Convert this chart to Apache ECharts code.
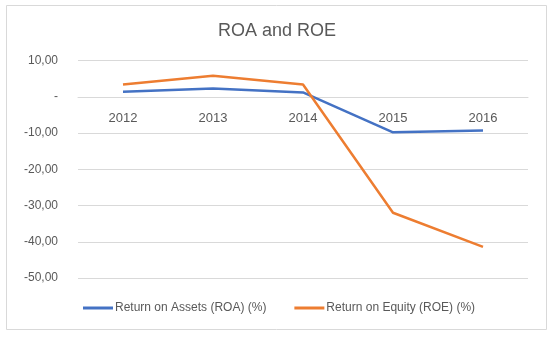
<!DOCTYPE html>
<html>
<head>
<meta charset="utf-8">
<script src="https://cdn.jsdelivr.net/npm/echarts@6/dist/echarts.min.js"></script>
<style>html,body{margin:0;padding:0;background:#fff}#c{width:554px;height:337px}</style>
</head>
<body>
<div id="c"></div>
<script>
var categories = ['2012', '2013', '2014', '2015', '2016'];
var roa = [1.4, 2.3, 1.2, -9.8, -9.3];
var roe = [3.4, 5.8, 3.4, -32.0, -41.4];
var seriesNames = ['Return on Assets (ROA) (%)', 'Return on Equity (ROE) (%)'];
var chartTitle = 'ROA and ROE';

var FONT = 'Liberation Sans, Arial, sans-serif';
var chart = echarts.init(document.getElementById('c'));
chart.setOption({
  animation: false,
  backgroundColor: '#fff',
  graphic: [{
    type: 'rect', left: 6, top: 5, z: -1,
    shape: { width: 540, height: 324 },
    style: { fill: '#fff', stroke: '#d9d9d9', lineWidth: 1 }
  }],
  title: {
    text: chartTitle, left: 'center', top: 17,
    textStyle: { fontFamily: FONT, fontSize: 18, fontWeight: 'normal', color: '#595959' }
  },
  legend: {
    left: 83, top: 302, padding: 0, itemWidth: 30, itemHeight: 3, itemGap: 28,
    icon: 'rect',
    textStyle: { fontFamily: FONT, fontSize: 12, color: '#595959', padding: [0, 0, 0, -3] },
    data: seriesNames
  },
  grid: { left: 78, right: 26, top: 60.5, bottom: 59, containLabel: false },
  xAxis: {
    type: 'category', data: categories, boundaryGap: true,
    offset: -181.25,
    axisLine: { onZero: false, lineStyle: { color: '#d9d9d9' } },
    axisTick: { show: false },
    axisLabel: { margin: 15, fontFamily: FONT, fontSize: 13, color: '#595959' }
  },
  yAxis: {
    type: 'value', min: -50, max: 10, interval: 10,
    axisLine: { show: false }, axisTick: { show: false },
    splitLine: { lineStyle: { color: '#d9d9d9' } },
    axisLabel: {
      margin: 20, fontFamily: FONT, fontSize: 12, color: '#595959',
      formatter: function (v) { return v === 0 ? '-' : v.toFixed(2).replace('.', ','); }
    }
  },
  series: [
    { name: seriesNames[0], type: 'line', data: roa, symbol: 'none',
      lineStyle: { width: 2.5, color: '#4472C4' }, itemStyle: { color: '#4472C4' } },
    { name: seriesNames[1], type: 'line', data: roe, symbol: 'none',
      lineStyle: { width: 2.5, color: '#ED7D31' }, itemStyle: { color: '#ED7D31' } }
  ]
});
</script>
</body>
</html>
